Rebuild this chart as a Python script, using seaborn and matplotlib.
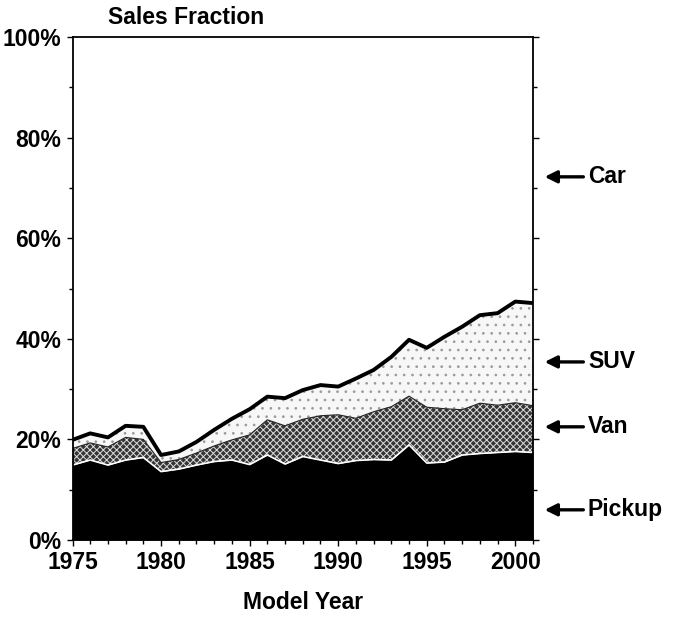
import matplotlib
matplotlib.use("Agg")
import matplotlib.pyplot as plt
import seaborn as sns
import numpy as np
import pandas as pd

# ---- data (percent of sales) ----
years = list(range(1975, 2002))
pickup_top = [14.9, 15.9, 14.9, 15.9, 16.4, 13.6, 14.1, 14.9, 15.6, 15.9,
              15.0, 16.9, 15.1, 16.6, 15.9, 15.2, 15.8, 16.0, 15.9, 18.9,
              15.3, 15.5, 16.9, 17.2, 17.4, 17.6, 17.4]
van_top = [18.2, 19.3, 18.5, 20.4, 20.0, 15.4, 16.0, 17.3, 18.7, 19.9,
           20.9, 23.9, 22.7, 24.0, 24.7, 24.9, 24.2, 25.5, 26.5, 28.6,
           26.4, 26.1, 25.9, 27.2, 26.8, 27.3, 26.7]
truck_total = [19.9, 21.2, 20.4, 22.7, 22.5, 16.9, 17.6, 19.5, 21.9, 24.1,
               26.0, 28.5, 28.2, 29.8, 30.8, 30.5, 32.1, 33.8, 36.4, 39.8,
               38.2, 40.4, 42.4, 44.7, 45.1, 47.4, 47.1]

categories = ["Pickup", "Van", "SUV", "Car"]
label_pos = [6.0, 22.5, 35.4, 72.2]   # percent where right-side labels point
x_ticks = [1975, 1980, 1985, 1990, 1995, 2000]
y_ticks = [0, 20, 40, 60, 80, 100]
y_ticklabels = ["0%", "20%", "40%", "60%", "80%", "100%"]

df = pd.DataFrame({"year": years, "Pickup": pickup_top,
                   "VanTop": van_top, "Total": truck_total})
df["Van"] = df["VanTop"] - df["Pickup"]
df["SUV"] = df["Total"] - df["VanTop"]
df["Car"] = 100 - df["Total"]

sns.set_style("ticks")
plt.rcParams["font.family"] = ["Liberation Sans", "DejaVu Sans"]
plt.rcParams["font.weight"] = "bold"
plt.rcParams["hatch.linewidth"] = 0.7
plt.rcParams["text.color"] = "black"
plt.rcParams["axes.labelcolor"] = "black"

FS = 16.5

fig = plt.figure(figsize=(6.74, 6.17), dpi=100)
ax = fig.add_axes([72.5 / 674, 1 - 540 / 617, (533 - 72.5) / 674, (540 - 37) / 617])

polys = ax.stackplot(df["year"], df["Pickup"], df["Van"], df["SUV"], df["Car"],
                     colors=["black", "#353535", "#f7f7f7", "white"], linewidth=0)
polys[1].set_hatch("xxxxx")
polys[1].set_edgecolor("#dddddd")
polys[2].set_hatch("..")
polys[2].set_edgecolor("#9a9a9a")
polys[3].set_edgecolor("white")

sns.lineplot(x="year", y="Pickup", data=df, ax=ax, color="white", lw=1.2)
sns.lineplot(x="year", y="VanTop", data=df, ax=ax, color="#222222", lw=0.8)
sns.lineplot(x="year", y="Total", data=df, ax=ax, color="black", lw=2.8)

ax.set_xlim(1975, 2001)
ax.set_ylim(0, 100)
ax.set_xticks(x_ticks)
ax.set_xticks(years, minor=True)
ax.set_yticks(y_ticks)
ax.set_yticklabels(y_ticklabels)
ax.set_yticks(range(0, 101, 10), minor=True)
ax.tick_params(axis="both", which="both", direction="out", width=1.0, colors="black")
ax.tick_params(axis="both", which="major", length=4, labelsize=FS, pad=4)
ax.tick_params(axis="both", which="minor", length=3)
ax.tick_params(axis="y", which="both", right=True)
for s in ax.spines.values():
    s.set_linewidth(1.3)
    s.set_color("black")

ax.set_xlabel("Model Year", fontsize=FS, fontweight="bold", labelpad=12, color="black")
ax.set_ylabel("")
fig.text(108 / 674, 1 - 18 / 617, "Sales Fraction", fontsize=FS,
         fontweight="bold", ha="left", va="center", color="black")

for name, yv in zip(categories, label_pos):
    ax.annotate("", xy=(2001.5, yv), xytext=(2004.0, yv),
                arrowprops=dict(arrowstyle="-|>", color="black", lw=2.4,
                                mutation_scale=18),
                annotation_clip=False)
    ax.text(2004.1, yv, name, fontsize=FS, fontweight="bold", color="black",
            ha="left", va="center", clip_on=False)

fig.savefig("out.png", dpi=100)
